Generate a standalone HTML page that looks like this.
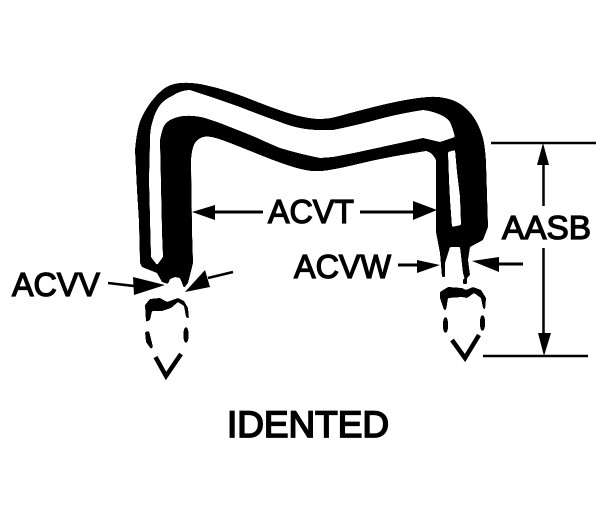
<!DOCTYPE html>
<html><head><meta charset="utf-8"><style>
html,body{margin:0;padding:0;background:#fff}
svg{display:block}
text{font-family:"Liberation Sans",sans-serif;fill:#000;stroke:#000;stroke-width:1.3}
</style></head><body>
<svg width="610" height="519" viewBox="0 0 610 519" xmlns="http://www.w3.org/2000/svg">
<defs><filter id="s" x="0" y="0" width="610" height="519" filterUnits="userSpaceOnUse" color-interpolation-filters="sRGB">
<feGaussianBlur stdDeviation="0.8"/>
<feComponentTransfer><feFuncA type="linear" slope="10" intercept="-4.5"/></feComponentTransfer>
</filter></defs>
<rect width="610" height="519" fill="#fff"/>
<g filter="url(#s)">
<!-- staple body -->
<path fill="#000" fill-rule="evenodd" d="M140 263 L139 222 L137 190 L135 150 Q137 128 141 119 Q145 110 151 102 Q157 94 163.500 89 Q170 84 180 83 Q190 82 202.500 84.500 Q215 87 227.500 91 Q240 95 255 101 Q270 107 285 112 Q300 117 312.500 118.500 Q325 120 337.500 116.500 Q350 113 371.500 107.500 Q393 102 411.500 99 Q430 96 438.500 97 Q447 98 453.500 100.500 Q460 103 466 108.500 Q472 114 476 121 Q480 128 482.500 136.500 Q485 145 486 162 L488 227 L483 240 L470 247 L468 260 L470 275 L465 280 L463 273 L460 247 L450 247 L445 263 L445 277 L442 277 L440 253 L436 232 L436 160 Q432 152 426 151 L404.500 154.500 Q383 158 358 164 Q333 170 321.500 171 Q310 172 295 167.500 Q280 163 261.500 155.500 Q243 148 227.500 142 Q212 136 206 136.500 Q200 137 196 141.500 Q192 146 191 160 L192 230 L193 263 L188 283 L184 288 L180 278 L175 277 L170 279 L168 284 L162 282 L157 273 L142 267 Z
M149 180 L150 140 Q150 128 153 120 Q155 112 160 105 Q165 99 172 96 Q181 90 190 90 Q215 98 240 107 Q260 115 280 122 Q290 126 300 128 Q310 130 320 130 L333 130 Q358 125 383 118 Q403 113 423 110 Q433 111 443 116 Q448 119 450 122 Q453 129 455 137 L440 142 L423 138 Q400 143 377 148 Q355 153 333 157 L320 158 Q300 154 280 148 Q268 143 255 137 Q243 132 230 127 Q218 122 205 118 Q194 115 183 116 Q176 117 170 120 Q165 123 163 128 Q161 134 160 140 L162 232 L163 257 L157 265 L151 257 Z
M448 152 L455 150 L457 172 L460 197 L461 225 L452 227 L450 200 L449 180 Z"/>
<!-- left tip -->
<path fill="#000" d="M145 305 L150 299 L160 298 L167 302 L178 298 L184 301 L188 308 L189 319 L186 317 L184 306 L178 302 L171 308 L162 311 L152 311 L150 320 L146 322 Z"/>
<ellipse cx="186" cy="335" rx="2.700" ry="8"/>
<path fill="#000" d="M145 332 L149 331 L153 347 L151 349 L146 342 Z"/>
<!-- right tip -->
<path fill="#000" d="M440 292 L448 287 L462 288 L466 290 L473 287 L481 290 L486 298 L485 310 L483 308 L481 298 L474 293 L467 298 L462 297 L448 298 L446 310 L444 310 L440 298 Z"/>
<ellipse cx="445.500" cy="325" rx="2.700" ry="8"/>
<ellipse cx="482.500" cy="323" rx="2.700" ry="8"/>
<rect x="463" y="279" width="4" height="5"/>
</g>
<path fill="none" stroke="#000" stroke-width="4.500" d="M155.500 357 L166 376 L181 354"/>
<path fill="none" stroke="#000" stroke-width="4.500" d="M452 340 L465 358 L479 335"/>
<!-- ACVT arrows -->
<path fill="#000" d="M192 212 L215 205 L215 220 Z M437 210 L413 201 L413 220 Z"/>
<path stroke="#000" stroke-width="3" d="M214 212 H263 M360 212 H414"/>
<!-- ACVV arrows -->
<path stroke="#000" stroke-width="2.500" fill="none" d="M108 283 L134 286 M233 272 L208 278"/>
<path fill="#000" d="M133 277 L165 285 L134 295 Z M205 270 L210 287 L185 292 Z"/>
<!-- ACVW arrows -->
<path stroke="#000" stroke-width="3" fill="none" d="M398 265 H418 M498 264 H523"/>
<path fill="#000" d="M417 260 L440 265 L417 273 Z M499 257 L472 261 L499 272 Z"/>
<!-- AASB dimension -->
<path stroke="#000" stroke-width="2.500" fill="none" d="M491 143 H596 M483 356 H588 M543.500 160 V206 M543.500 248 V336"/>
<path fill="#000" d="M543 143 L549 165 L537 165 Z M544 356 L538 333 L551 333 Z"/>
<!-- labels -->
<text x="268" y="223" font-size="33" textLength="86" lengthAdjust="spacingAndGlyphs">ACVT</text>
<text x="502" y="239" font-size="33" textLength="89" lengthAdjust="spacingAndGlyphs">AASB</text>
<text x="12" y="296" font-size="33" textLength="88" lengthAdjust="spacingAndGlyphs">ACVV</text>
<text x="294" y="278" font-size="33" textLength="97" lengthAdjust="spacingAndGlyphs">ACVW</text>
<text x="227" y="437" font-size="37" textLength="162" lengthAdjust="spacingAndGlyphs" style="stroke-width:1.7">IDENTED</text>
</svg>
</body></html>
